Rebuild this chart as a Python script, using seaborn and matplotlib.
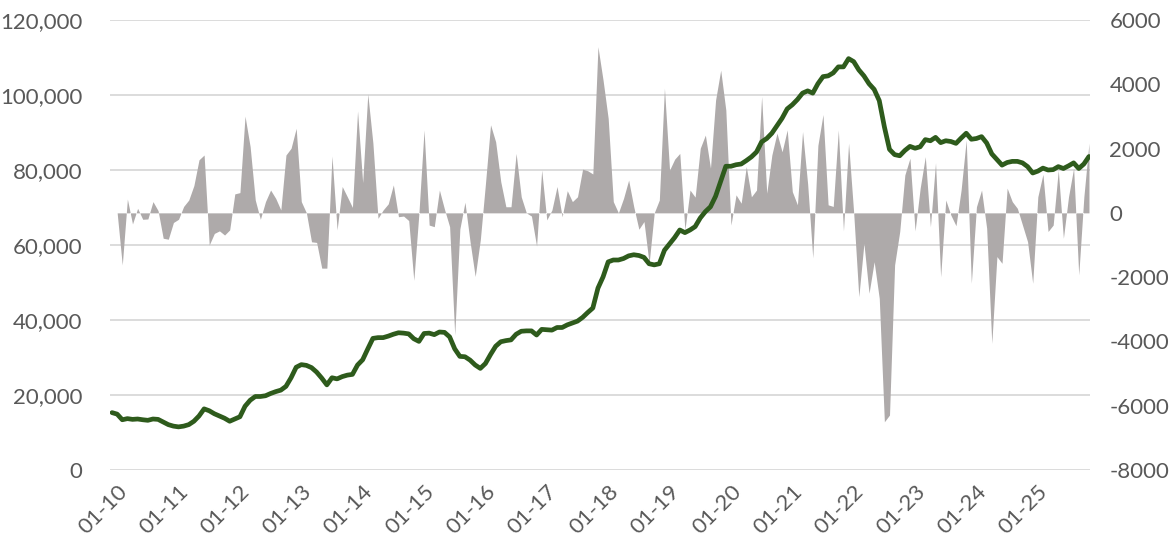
import numpy as np
import pandas as pd
import matplotlib.pyplot as plt
import matplotlib.transforms as mtransforms
import seaborn as sns
from matplotlib.ticker import FuncFormatter, MultipleLocator

# monthly series, Jan 2010 .. Dec 2025
years = list(range(2010, 2026))

level = [
    15300, 14900, 13400, 13700, 13500, 13600, 13400, 13250, 13600, 13500, 12800, 12100,
    11700, 11500, 11700, 12100, 13000, 14400, 16300, 15800, 15000, 14400, 13800, 13000,
    13600, 14200, 17000, 18600, 19600, 19600, 19800, 20400, 20900, 21300, 22300, 24600,
    27400, 28100, 27900, 27300, 26100, 24500, 22700, 24600, 24300, 24900, 25300, 25500,
    28000, 29400, 32300, 35100, 35300, 35300, 35700, 36200, 36600, 36500, 36300, 35000,
    34300, 36400, 36500, 36100, 36800, 36700, 35500, 32300, 30300, 30200, 29300, 28000,
    27100, 28400, 30800, 33000, 34200, 34500, 34700, 36200, 37000, 37100, 37100, 36000,
    37500, 37400, 37300, 38000, 38000, 38700, 39200, 39700, 40700, 42000, 43200, 48500,
    51500, 55500, 56000, 56000, 56400, 57100, 57400, 57200, 56700, 55000, 54700, 55000,
    58600, 60300, 62000, 64000, 63300, 64000, 64900, 67200, 68900, 70200, 73000, 77000,
    81000, 81000, 81400, 81600, 82500, 83500, 84800, 87500, 88400, 89800, 91800, 93800,
    96300, 97400, 98800, 100500, 101100, 100500, 103000, 104900, 105100, 105900, 107500, 107500,
    109700, 108900, 106700, 105100, 103000, 101500, 98500, 91500, 85500, 84100, 83800, 85200,
    86300, 85800, 86200, 88100, 87800, 88700, 87300, 87800, 87600, 87100, 88500, 89800,
    88200, 88400, 88900, 87200, 84300, 82800, 81300, 82000, 82300, 82300, 81900, 80900,
    79200, 79700, 80500, 80000, 80100, 80900, 80400, 81100, 81900, 80400, 81600, 83600,
]

change = [
    0, 0, -1620, 430, -345, 140, -200, -190, 350, 70, -790, -820,
    -300, -200, 200, 400, 850, 1650, 1800, -1000, -640, -560, -690, -530,
    590, 630, 3010, 2060, 400, -200, 350, 710, 450, 90, 1800, 2010,
    2630, 350, 0, -900, -920, -1720, -1720, 1770, -530, 820, 500, 170,
    3170, 940, 3700, 2170, -170, 90, 280, 870, -120, -100, -240, -2100,
    0, 2580, -380, -430, 710, 110, -430, -3800, -500, 330, -900, -1980,
    -840, 900, 2740, 2210, 970, 190, 190, 1850, 500, 0, -100, -1030,
    1330, -220, 90, 820, -120, 690, 350, 500, 1360, 1310, 1210, 5170,
    4130, 2940, 350, 0, 450, 1020, 190, -510, -270, -1570, 0, 400,
    3880, 1330, 1670, 1850, -530, 710, 490, 2010, 2420, 1390, 3510, 4440,
    3200, -380, 560, 300, 1440, 500, 710, 3620, 610, 1800, 2480, 1900,
    2580, 660, 250, 2530, 900, -1400, 2100, 3060, 250, 200, 2580, -560,
    2170, 0, -2610, -950, -2500, -1520, -2660, -6500, -6290, -1620, -580, 1180,
    1700, -560, 770, 1750, -430, 1560, -1990, 400, -70, -400, 710, 2270,
    -2190, 190, 710, -480, -4060, -1360, -1570, 770, 350, 140, -380, -900,
    -2190, 500, 1200, -580, -380, 1330, -790, 500, 1390, -1930, 500, 2170,
]

tick_labels = [f"01-{y % 100:02d}" for y in years]

df = pd.DataFrame({"month": np.arange(len(level)), "level": level, "change": change})

sns.set_theme(style="white")
plt.rcParams["font.family"] = ["Lato", "DejaVu Sans"]
grey_txt = "#595959"
fs = 16

fig = plt.figure(figsize=(11.73, 5.41), dpi=100)
ax = fig.add_axes([110 / 1173, 71 / 541, 980 / 1173, 450 / 541])

# left axis: grid + labels
ax.set_ylim(0, 120000)
ax.yaxis.set_major_locator(MultipleLocator(20000))
ax.yaxis.set_major_formatter(FuncFormatter(lambda v, p: f"{v:,.0f}"))
ax.grid(axis="y", color="#d9d9d9", lw=1.3)
ax.set_xlim(-0.4, 191.2)
ax.set_xticks(np.arange(0, len(level), 12))
ax.set_xticklabels(tick_labels, rotation=45, ha="right", rotation_mode="anchor")
ax.tick_params(axis="both", length=0, labelsize=fs, labelcolor=grey_txt)
ax.tick_params(axis="y", pad=20)
ax.tick_params(axis="x", pad=8)
shift = mtransforms.ScaledTranslation(5 / 100, 0, fig.dpi_scale_trans)
for lab in ax.get_xticklabels():
    lab.set_transform(lab.get_transform() + shift)
for s in ax.spines.values():
    s.set_visible(False)

# right axis: monthly change area
ax2 = ax.twinx()
ax2.fill_between(df["month"], 0, df["change"], color="#AEAAAA", lw=0)
ax2.set_ylim(-8000, 6000)
ax2.yaxis.set_major_locator(MultipleLocator(2000))
ax2.yaxis.set_major_formatter(FuncFormatter(lambda v, p: f"{v:.0f}"))
ax2.tick_params(axis="y", length=0, labelsize=fs, labelcolor=grey_txt, pad=14)
for s in ax2.spines.values():
    s.set_visible(False)

# level line on top
ax3 = ax.twinx()
sns.lineplot(data=df, x="month", y="level", ax=ax3, color="#2E5B1C", lw=3.4)
ax3.set_ylim(0, 120000)
ax3.set_axis_off()

for a in (ax, ax2):
    a.set_xlabel("")
    a.set_ylabel("")

fig.savefig("out.png", dpi=100)
